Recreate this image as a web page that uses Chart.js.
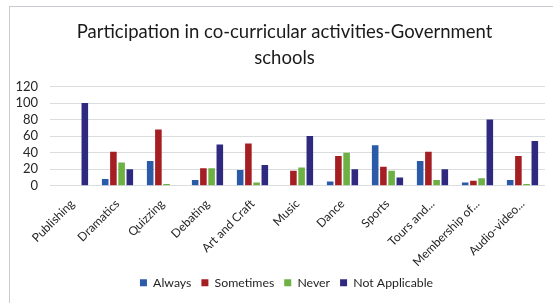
<!DOCTYPE html>
<html>
<head>
<meta charset="utf-8">
<script src="https://cdn.jsdelivr.net/npm/chart.js@4/dist/chart.umd.min.js"></script>
<style>
  html, body { margin: 0; padding: 0; background: #ffffff; overflow: hidden; }
  #frame { position: absolute; left: 9px; top: 6px; width: 560px; height: 320px; border: 1px solid #c8ccd0; box-sizing: border-box; }
  #wrap { position: absolute; left: 0; top: 0; width: 553px; height: 303px; }
</style>
</head>
<body>
<div id="frame"></div>
<div id="wrap"><canvas id="c" width="553" height="303"></canvas></div>
<script>
const categories = ["Publishing", "Dramatics", "Quizzing", "Debating", "Art and Craft", "Music", "Dance", "Sports", "Tours and...", "Membership of...", "Audio-video..."];
const always        = [0, 8, 30, 7, 19, 0, 5, 49, 30, 4, 7];
const sometimes     = [0, 41, 68, 21, 51, 18, 36, 23, 41, 6, 36];
const never         = [0, 28, 2, 21, 4, 22, 40, 18, 7, 9, 2];
const notApplicable = [100, 20, 0, 50, 25, 60, 20, 10, 20, 80, 54];
const yTicks = [0, 20, 40, 60, 80, 100, 120];
const seriesNames = ["Always", "Sometimes", "Never", "Not Applicable"];
const titleLines = ["Participation in co-curricular activities-Government", "schools"];

const FONT = "Lato, 'Open Sans', sans-serif";
const colors = ["#2A5AA8", "#A51E22", "#6DB044", "#2F2A80"];
const seriesData = [always, sometimes, never, notApplicable];

const shiftPlugin = {
  id: 'shiftTitleLegend',
  afterLayout(chart) {
    if (chart.titleBlock) { chart.titleBlock.left += 7; chart.titleBlock.right += 7; }
    if (chart.legend) { chart.legend.left += 9; chart.legend.right += 9; }
  }
};

new Chart(document.getElementById('c'), {
  type: 'bar',
  data: {
    labels: categories,
    datasets: seriesNames.map((name, i) => ({
      label: name,
      data: seriesData[i],
      backgroundColor: colors[i],
      borderWidth: 0,
      categoryPercentage: 0.73,
      barPercentage: 0.8
    }))
  },
  options: {
    responsive: false,
    animation: false,
    devicePixelRatio: 1,
    layout: { padding: { left: 10, right: 8, top: 0, bottom: 4 } },
    plugins: {
      title: {
        display: true,
        text: titleLines,
        color: '#1a1a1a',
        font: { family: FONT, size: 18.5, weight: 'normal', lineHeight: 1.42 },
        padding: { top: 19, bottom: 15 }
      },
      legend: {
        position: 'bottom',
        labels: {
          boxWidth: 7, boxHeight: 7,
          color: '#1f1f1f',
          font: { family: FONT, size: 12.3 },
          padding: 10
        }
      },
      tooltip: { enabled: false }
    },
    scales: {
      x: {
        grid: { display: false },
        border: { display: false },
        ticks: {
          color: '#262626',
          font: { family: FONT, size: 12 },
          minRotation: 45, maxRotation: 45,
          autoSkip: false
        },
        afterFit(s) { s.height = 81; }
      },
      y: {
        min: 0, max: 120,
        afterBuildTicks(s) { s.ticks = yTicks.map(v => ({ value: v })); },
        grid: { color: '#d9dde0', lineWidth: 1, drawTicks: false },
        border: { display: false },
        ticks: {
          color: '#262626',
          font: { family: FONT, size: 13 },
          padding: 12,
          autoSkip: false
        },
        afterFit(s) { s.width = 40; }
      }
    }
  },
  plugins: [shiftPlugin]
});
</script>
</body>
</html>
